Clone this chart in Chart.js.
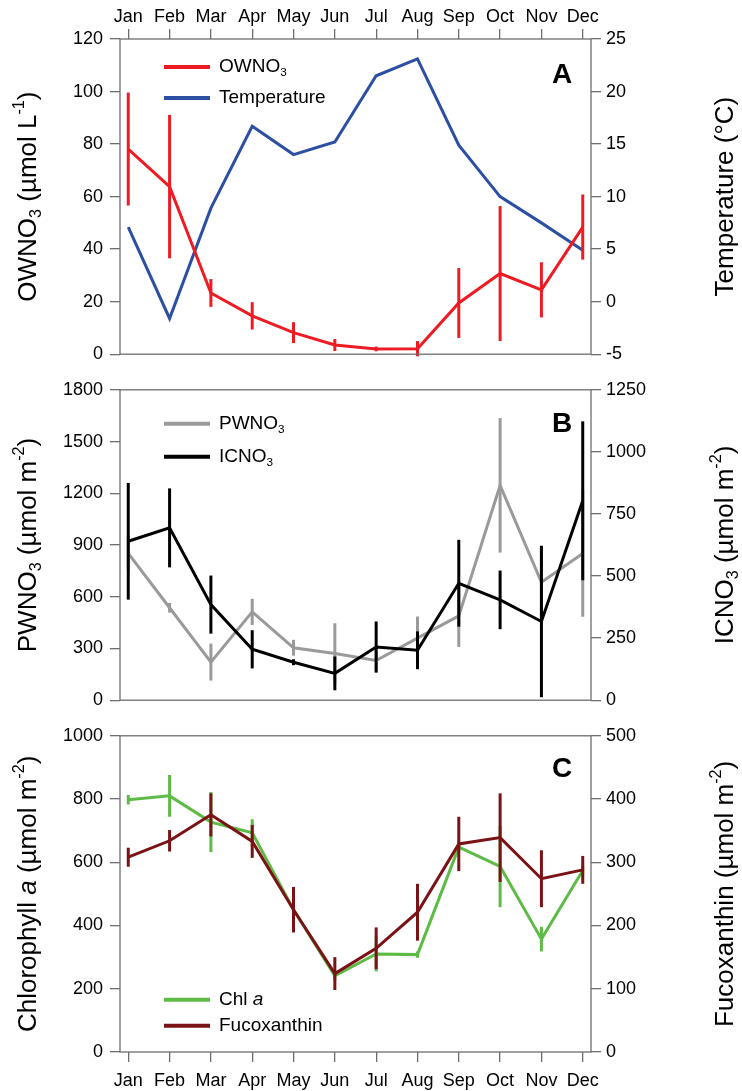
<!DOCTYPE html>
<html>
<head>
<meta charset="utf-8">
<script src="https://cdn.jsdelivr.net/npm/chart.js@4.4.0/dist/chart.umd.min.js"></script>
<style>
  body { margin: 0; background: #fff; width: 742px; height: 1091px; position: relative; overflow: hidden; }
  canvas { position: absolute; left: 0; }
</style>
</head>
<body>
<canvas id="panelA" width="742" height="372" style="top:0px"></canvas>
<canvas id="panelB" width="742" height="346" style="top:372px"></canvas>
<canvas id="panelC" width="742" height="373" style="top:718px"></canvas>
<script>
// monthly values
const months = ["Jan", "Feb", "Mar", "Apr", "May", "Jun", "Jul", "Aug", "Sep", "Oct", "Nov", "Dec"];

const owno3 = [78.1, 63.8, 23.3, 14.6, 8.2, 3.5, 2.0, 2.1, 19.5, 30.7, 24.5, 48.4];
const owno3Err = [21.5, 27.3, 5.3, 5.2, 4.0, 2.3, 0.9, 2.9, 13.3, 25.7, 10.5, 12.4];
const temperature = [7.1, -1.6, 8.9, 16.7, 14.0, 15.2, 21.5, 23.1, 14.9, 10.0, 7.5, 4.9];

const pwno3 = [851, 536, 221, 512, 304, 271, 230, 360, 489, 1246, 684, 851];
const pwno3Err = [100, 28, 107, 76, 46, 175, 60, 125, 180, 390, 200, 367];
const icno3 = [640, 694, 385, 205, 153, 108, 214, 201, 471, 404, 317, 803];
const icno3Err = [235, 159, 117, 77, 12, 68, 103, 76, 175, 118, 305, 320];

const chla = [798, 810, 727, 693, 450, 241, 310, 308, 648, 587, 357, 574];
const chlaErr = [15, 66, 95, 43, 40, 15, 55, 10, 15, 129, 39, 15];
const fuco = [308, 334, 375, 333, 225, 124, 164, 221, 329, 339, 274, 288];
const fucoErr = [15, 17, 34, 26, 36, 26, 33, 45, 43, 70, 45, 22];

const FONT = "'Liberation Sans', Arial, sans-serif";
const AXIS = '#6e6e6e';

// draws a run of text pieces with sub/superscripts and italics, centred on (0,0)
function drawRich(ctx, segs, size, align) {
    const parts = segs.map(([t, k]) => {
        const small = k === 'sub' || k === 'sup';
        const fs = small ? size * 0.62 : size;
        const font = (k === 'it' ? 'italic ' : '') + fs + 'px ' + FONT;
        ctx.font = font;
        return { t, k, font, w: ctx.measureText(t).width };
    });
    const total = parts.reduce((s, p) => s + p.w, 0);
    let x = align === 'left' ? 0 : -total / 2;
    ctx.textBaseline = 'middle';
    ctx.textAlign = 'left';
    parts.forEach(p => {
        ctx.font = p.font;
        let dy = 0;
        if (p.k === 'sub') dy = size * 0.3;
        if (p.k === 'sup') dy = -size * 0.38;
        ctx.fillText(p.t, x, dy);
        x += p.w;
    });
}

const errorBars = {
    id: 'errorBars',
    beforeDatasetDraw(chart, args) {
        const ds = chart.data.datasets[args.index];
        if (!ds.errs) return;
        const xs = chart.scales.x, ys = chart.scales[ds.yAxisID];
        const ctx = chart.ctx;
        ctx.save();
        ctx.strokeStyle = ds.borderColor;
        ctx.lineWidth = 3;
        ds.data.forEach((p, i) => {
            const px = xs.getPixelForValue(p.x);
            ctx.beginPath();
            ctx.moveTo(px, ys.getPixelForValue(p.y - ds.errs[i]));
            ctx.lineTo(px, ys.getPixelForValue(p.y + ds.errs[i]));
            ctx.stroke();
        });
        ctx.restore();
    }
};

const decor = {
    id: 'decor',
    afterDraw(chart, args, opts) {
        const ctx = chart.ctx;
        const a = chart.chartArea;
        ctx.save();
        ctx.strokeStyle = AXIS;
        ctx.lineWidth = 1.3;
        ctx.strokeRect(a.left, a.top, a.right - a.left, a.bottom - a.top);

        ctx.fillStyle = '#000';
        ctx.font = 'bold 28px ' + FONT;
        ctx.textAlign = 'center';
        ctx.textBaseline = 'middle';
        ctx.fillText(opts.letter, 562, a.top + opts.letterDy);

        opts.legend.forEach(item => {
            const y = a.top + item.dy;
            ctx.strokeStyle = item.color;
            ctx.lineWidth = 4;
            ctx.beginPath();
            ctx.moveTo(164, y);
            ctx.lineTo(210, y);
            ctx.stroke();
            ctx.fillStyle = '#000';
            ctx.save();
            ctx.translate(219, y);
            drawRich(ctx, item.text, 19, 'left');
            ctx.restore();
        });

        const cy = (a.top + a.bottom) / 2;
        [[29, opts.leftTitle], [726, opts.rightTitle]].forEach(([x, segs]) => {
            ctx.save();
            ctx.translate(x, cy);
            ctx.rotate(-Math.PI / 2);
            ctx.fillStyle = '#000';
            drawRich(ctx, segs, 26, 'center');
            ctx.restore();
        });
        ctx.restore();
    }
};

function series(values) {
    return values.map((v, i) => ({ x: i, y: v }));
}

function yAxis(pos, min, max, step) {
    return {
        position: pos,
        min, max,
        border: { display: false },
        grid: { drawOnChartArea: false, drawTicks: true, tickLength: 10, color: AXIS, lineWidth: 1.3 },
        ticks: {
            stepSize: step, color: '#000', font: { size: 18, family: FONT },
            padding: pos === 'left' ? 7 : 5,
            callback: v => String(v)
        },
        afterFit: s => { s.width = pos === 'left' ? 120 : 151; }
    };
}

function xAxis(pos, show, height, pad) {
    return {
        type: 'linear',
        position: pos,
        min: -0.2, max: 11.2,
        display: show,
        border: { display: false },
        grid: { drawOnChartArea: false, drawTicks: true, tickLength: 10, color: AXIS, lineWidth: 1.3 },
        afterBuildTicks: s => { s.ticks = months.map((m, i) => ({ value: i })); },
        ticks: {
            autoSkip: false, maxRotation: 0,
            color: '#000', font: { size: 18, family: FONT }, padding: pad,
            callback: v => months[v]
        },
        afterFit: s => { s.height = height; }
    };
}

function line(label, values, errs, color, axis, order) {
    return {
        label, data: series(values), errs,
        borderColor: color, borderWidth: 3, pointRadius: 0, tension: 0,
        yAxisID: axis, order, fill: false
    };
}

function makePanel(id, datasets, scales, padding, deco) {
    new Chart(document.getElementById(id), {
        type: 'line',
        data: { datasets },
        options: {
            responsive: false,
            animation: false,
            layout: { padding },
            plugins: { legend: { display: false }, tooltip: { enabled: false }, decor: deco },
            scales
        },
        plugins: [errorBars, decor]
    });
}

makePanel('panelA',
    [
        line('OWNO3', owno3, owno3Err, '#ED1C24', 'y', 0),
        line('Temperature', temperature, null, '#2C4FA3', 'y1', 1)
    ],
    { x: xAxis('top', true, 39, 1), y: yAxis('left', 0, 120, 20), y1: yAxis('right', -5, 25, 5) },
    { top: 0, bottom: 9, left: 0, right: 0 },
    {
        letter: 'A', letterDy: 36,
        legend: [
            { dy: 28, color: '#ED1C24', text: [['OWNO'], ['3', 'sub']] },
            { dy: 59, color: '#2C4FA3', text: [['Temperature']] }
        ],
        leftTitle: [['OWNO'], ['3', 'sub'], [' (µmol L'], ['-1', 'sup'], [')']],
        rightTitle: [['Temperature (°C)']]
    });

makePanel('panelB',
    [
        line('ICNO3', icno3, icno3Err, '#000000', 'y1', 0),
        line('PWNO3', pwno3, pwno3Err, '#9A9A9A', 'y', 1)
    ],
    { x: xAxis('top', false, 0, 0), y: yAxis('left', 0, 1800, 300), y1: yAxis('right', 0, 1250, 250) },
    { top: 12, bottom: 10, left: 0, right: 0 },
    {
        letter: 'B', letterDy: 34,
        legend: [
            { dy: 34, color: '#9A9A9A', text: [['PWNO'], ['3', 'sub']] },
            { dy: 67, color: '#000000', text: [['ICNO'], ['3', 'sub']] }
        ],
        leftTitle: [['PWNO'], ['3', 'sub'], [' (µmol m'], ['-2', 'sup'], [')']],
        rightTitle: [['ICNO'], ['3', 'sub'], [' (µmol m'], ['-2', 'sup'], [')']]
    });

makePanel('panelC',
    [
        line('Fucoxanthin', fuco, fucoErr, '#7A1216', 'y1', 0),
        line('Chl a', chla, chlaErr, '#5DBB46', 'y', 1)
    ],
    { x: xAxis('bottom', true, 39, 8), y: yAxis('left', 0, 1000, 200), y1: yAxis('right', 0, 500, 100) },
    { top: 11, bottom: 0, left: 0, right: 0 },
    {
        letter: 'C', letterDy: 33,
        legend: [
            { dy: 264, color: '#5DBB46', text: [['Chl '], ['a', 'it']] },
            { dy: 290, color: '#7A1216', text: [['Fucoxanthin']] }
        ],
        leftTitle: [['Chlorophyll '], ['a', 'it'], [' (µmol m'], ['-2', 'sup'], [')']],
        rightTitle: [['Fucoxanthin (µmol m'], ['-2', 'sup'], [')']]
    });
</script>
</body>
</html>
